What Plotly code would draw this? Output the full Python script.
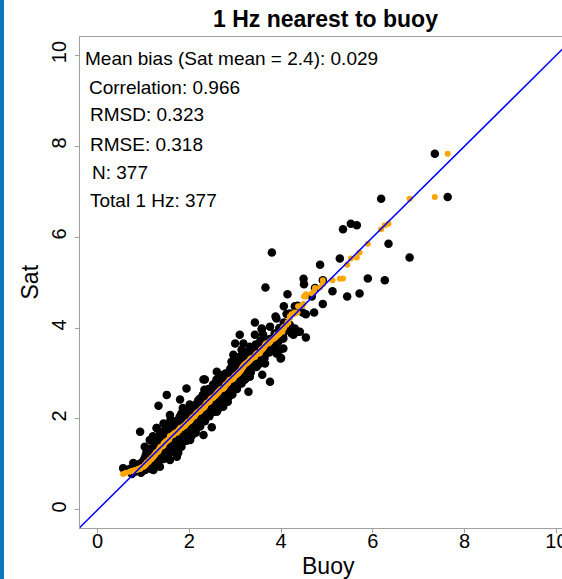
import plotly.graph_objects as go

# Collocated significant wave height (m): buoy vs. nearest 1 Hz altimeter sample
buoy = [
    0.56, 0.62, 0.70, 0.78, 0.75, 0.82, 0.86, 0.90, 0.88,
    0.93, 0.97, 0.95, 0.99, 1.02, 1.00,
    1.03, 1.04, 1.06, 1.08, 1.05, 1.10, 1.07,
    1.14, 1.12, 1.16, 1.13, 1.18, 1.15, 1.19, 1.17,
    1.22, 1.24, 1.26, 1.23, 1.27, 1.25, 1.28, 1.21, 1.29,
    1.36, 1.33, 1.37, 1.34, 1.38, 1.35, 1.32, 1.39, 1.36,
    1.44, 1.47, 1.43, 1.46, 1.48, 1.45, 1.42, 1.49, 1.44,
    1.58, 1.53, 1.56, 1.54, 1.57, 1.55, 1.52, 1.58, 1.56, 1.59,
    1.62, 1.66, 1.64, 1.67, 1.63, 1.68, 1.65, 1.69, 1.73,
    1.74, 1.77, 1.72, 1.76, 1.78, 1.75, 1.73, 1.79, 1.76,
    1.83, 1.86, 1.84, 1.87, 1.82, 1.88, 1.85, 1.83, 1.89,
    1.94, 1.97, 1.93, 1.96, 1.98, 1.95, 1.92, 1.99, 1.91,
    2.02, 2.06, 2.04, 2.07, 2.03, 2.08, 2.05, 2.09, 2.09, 2.01,
    2.14, 2.17, 2.13, 2.16, 2.18, 2.15, 2.12, 2.19, 2.20,
    2.24, 2.27, 2.23, 2.26, 2.28, 2.25, 2.22, 2.29, 2.31,
    2.34, 2.37, 2.33, 2.36, 2.38, 2.35, 2.32, 2.39, 2.31, 2.33,
    2.44, 2.47, 2.43, 2.46, 2.48, 2.45, 2.42, 2.49, 2.45,
    2.54, 2.57, 2.53, 2.56, 2.58, 2.55, 2.52, 2.59, 2.60,
    2.64, 2.67, 2.63, 2.66, 2.68, 2.65, 2.62, 2.69, 2.60, 2.62,
    2.74, 2.77, 2.73, 2.76, 2.78, 2.75, 2.72, 2.79, 2.81,
    2.84, 2.87, 2.83, 2.86, 2.88, 2.85, 2.82, 2.89,
    2.96, 2.94, 2.97, 2.93, 2.98, 2.95, 2.92, 2.99, 2.96, 2.92,
    3.04, 3.07, 3.03, 3.06, 3.08, 3.05, 3.02, 3.09, 3.00,
    3.14, 3.17, 3.13, 3.16, 3.18, 3.15, 3.12, 3.19, 3.10, 3.14, 3.18, 3.21,
    3.24, 3.27, 3.23, 3.26, 3.28, 3.25, 3.29, 3.32, 3.32,
    3.34, 3.37, 3.33, 3.36, 3.38, 3.35, 3.47, 3.43, 3.43,
    3.44, 3.47, 3.43, 3.46, 3.48, 3.45,
    3.54, 3.57, 3.53, 3.56, 3.58, 3.55, 3.59, 3.61, 3.58,
    3.64, 3.67, 3.63, 3.66, 3.68, 3.61, 3.65,
    3.74, 3.77, 3.73, 3.76, 3.76, 3.76, 3.83,
    3.84, 3.87, 3.83, 3.86, 3.88, 3.90, 3.90,
    3.94, 3.97, 3.93, 3.96, 3.98, 3.99, 4.00,
    4.04, 4.07, 4.03, 4.06, 4.05, 4.05, 4.06, 4.03,
    4.14, 4.12, 4.19, 4.19, 4.16, 4.23, 4.27, 4.30, 4.30, 4.37,
    4.36, 4.41, 4.47, 4.54, 4.54, 4.50, 4.49, 4.67, 4.74, 4.72,
    4.85, 4.91, 4.91, 5.12, 5.44, 5.71, 5.28, 5.35, 5.52, 5.65,
    5.89, 6.26, 6.34, 6.80, 6.18, 7.35, 7.63,
    3.66, 3.80, 3.90, 3.58,
    0.93, 1.29, 1.33, 1.51, 1.58, 1.80, 1.86, 1.94, 2.34,
]

sat = [
    0.92, 0.86, 0.90, 1.03, 0.79, 0.84, 0.93, 0.86, 1.00,
    0.95, 1.05, 0.82, 0.90, 1.12, 0.98,
    1.39, 0.88, 1.00, 1.10, 1.20, 0.94, 1.28,
    1.54, 0.96, 1.05, 1.16, 1.25, 1.35, 1.10, 0.90,
    0.88, 1.00, 1.12, 1.22, 1.30, 1.42, 1.50, 1.62, 1.80,
    0.95, 1.06, 1.16, 1.26, 1.36, 1.46, 1.55, 1.64, 1.72,
    1.12, 1.22, 1.32, 1.42, 1.52, 1.62, 1.70, 1.80, 1.90,
    1.10, 1.20, 1.30, 1.40, 1.48, 1.58, 1.68, 1.76, 1.88, 1.98,
    1.28, 1.36, 1.46, 1.55, 1.65, 1.74, 1.84, 1.94, 1.17,
    1.38, 1.47, 1.56, 1.66, 1.76, 1.85, 1.96, 2.05, 1.26,
    1.39, 1.50, 1.60, 1.70, 1.80, 1.90, 2.00, 2.12, 1.69,
    1.52, 1.62, 1.72, 1.82, 1.92, 2.02, 2.12, 2.22, 1.89,
    1.54, 1.64, 1.74, 1.84, 1.94, 2.04, 2.14, 2.24, 1.76, 2.32,
    1.70, 1.80, 1.90, 2.00, 2.10, 2.20, 2.30, 2.40, 1.83,
    1.84, 1.94, 2.04, 2.14, 2.24, 2.34, 2.44, 2.52, 1.65,
    1.95, 2.05, 2.15, 2.25, 2.35, 2.45, 2.55, 2.62, 2.87, 2.64,
    2.06, 2.16, 2.26, 2.36, 2.46, 2.56, 2.66, 1.82, 2.20,
    2.16, 2.26, 2.36, 2.46, 2.56, 2.66, 2.76, 2.86, 2.16,
    2.28, 2.38, 2.48, 2.58, 2.68, 2.78, 2.88, 2.96, 3.04, 2.20,
    2.27, 2.40, 2.50, 2.60, 2.70, 2.80, 2.90, 3.00, 2.49,
    2.38, 2.50, 2.60, 2.70, 2.80, 2.90, 3.00, 3.10,
    2.64, 2.54, 2.74, 2.84, 2.94, 3.04, 3.14, 3.24, 3.41, 3.26,
    2.66, 2.76, 2.86, 2.96, 3.06, 3.16, 3.26, 3.36, 3.66,
    2.78, 2.88, 2.98, 3.08, 3.18, 3.28, 3.38, 3.48, 3.85, 3.52, 3.66, 2.86,
    2.90, 3.00, 3.10, 3.20, 3.30, 3.40, 2.60, 2.93, 3.59,
    3.02, 3.12, 3.22, 3.32, 3.42, 3.52, 3.15, 3.85, 4.12,
    3.14, 3.24, 3.34, 3.44, 3.54, 3.64,
    3.22, 3.32, 3.42, 3.52, 3.62, 3.72, 2.97, 3.85, 3.99,
    3.34, 3.44, 3.54, 3.64, 3.74, 3.37, 3.22,
    3.46, 3.56, 3.66, 3.76, 2.82, 4.03, 3.70,
    3.58, 3.68, 3.78, 3.88, 4.25, 3.44, 3.70,
    3.70, 3.80, 3.90, 4.00, 3.52, 3.33, 3.34,
    3.82, 3.92, 4.02, 4.12, 3.77, 3.55, 4.48, 3.77,
    4.74, 4.31, 4.32, 4.07, 4.00, 3.88, 3.85, 3.99, 4.48, 3.92,
    4.49, 3.92, 4.34, 3.79, 4.30, 4.96, 5.08, 4.69, 4.88, 4.34,
    5.39, 5.05, 4.53, 4.81, 4.69, 4.76, 5.53, 6.17, 6.29, 6.26,
    5.09, 5.05, 5.85, 5.55, 6.84, 7.83, 6.88,
    4.89, 5.66, 4.21, 3.97,
    1.72, 1.80, 2.29, 2.53, 2.09, 2.43, 2.24, 2.67, 2.87,
]

# Quantile-quantile pairs: sorted buoy against sorted satellite values
qq_buoy = sorted(buoy)
qq_sat = sorted(sat)

# 1:1 reference line spans beyond the visible axes
one_to_one = [-1, 11]

stats_lines = [
    "Mean bias (Sat mean = 2.4): 0.029",
    "Correlation: 0.966",
    "RMSD: 0.323",
    "RMSE: 0.318",
    "N: 377",
    "Total 1 Hz: 377",
]
stats_left_px = [83, 87, 88, 88, 90, 88]
stats_mid_px = [58, 87, 115, 144, 172, 200]

W, H = 562, 579
FONT = "Liberation Sans, Arial, sans-serif"

fig = go.Figure()
fig.add_trace(go.Scatter(
    x=buoy, y=sat, mode="markers",
    marker=dict(color="black", size=8.5, line=dict(width=0)),
    showlegend=False, hoverinfo="skip",
))
fig.add_trace(go.Scatter(
    x=qq_buoy, y=qq_sat, mode="markers",
    marker=dict(color="#FFA500", size=6, line=dict(width=0)),
    showlegend=False, hoverinfo="skip",
))
fig.add_trace(go.Scatter(
    x=one_to_one, y=one_to_one, mode="lines",
    line=dict(color="#0000FF", width=1.5),
    showlegend=False, hoverinfo="skip",
))

axis_common = dict(
    showgrid=False, zeroline=False, automargin=False,
    showline=True, mirror=True, linecolor="#a0a0a0", linewidth=1,
    ticks="outside", ticklen=4, tickcolor="#a0a0a0", tickwidth=1,
    tickfont=dict(family=FONT, size=20, color="black"),
    tickmode="array", tickvals=[0, 2, 4, 6, 8, 10],
    ticktext=["0", "2", "4", "6", "8", "10"],
    ticklabeloverflow="allow",
)

annotations = []
for txt, lx, my in zip(stats_lines, stats_left_px, stats_mid_px):
    annotations.append(dict(
        text=txt, xref="paper", yref="paper",
        x=(lx - 80) / (W - 80), y=1 - (my - 37) / (528 - 37),
        xanchor="left", yanchor="middle", showarrow=False,
        font=dict(family=FONT, size=19, color="black"),
    ))
annotations.append(dict(
    text="<b>1 Hz nearest to buoy</b>", xref="paper", yref="paper",
    x=(325 - 80) / (W - 80), y=1 + (37 - 19) / (528 - 37),
    xanchor="center", yanchor="middle", showarrow=False,
    font=dict(family=FONT, size=23, color="black"),
))
annotations.append(dict(
    text="Buoy", xref="paper", yref="paper",
    x=(328 - 80) / (W - 80), y=-(566 - 528) / (528 - 37),
    xanchor="center", yanchor="middle", showarrow=False,
    font=dict(family=FONT, size=23, color="black"),
))
annotations.append(dict(
    text="Sat", xref="paper", yref="paper",
    x=-(80 - 29) / (W - 80), y=0.5, textangle=-90,
    xanchor="center", yanchor="middle", showarrow=False,
    font=dict(family=FONT, size=23, color="black"),
))

fig.update_layout(
    width=W, height=H,
    margin=dict(l=80, r=0, t=37, b=51, pad=0, autoexpand=False),
    paper_bgcolor="white", plot_bgcolor="white",
    xaxis=dict(range=[-0.38, 10.12], ticklabelstandoff=-9, **axis_common),
    yaxis=dict(range=[-0.396, 10.396], tickangle=-90, ticklabelstandoff=1, **axis_common),
    annotations=annotations,
    shapes=[dict(type="rect", xref="paper", yref="paper",
                 x0=-80 / (W - 80), x1=-76 / (W - 80), y0=-51 / (528 - 37), y1=1 + 37 / (528 - 37),
                 fillcolor="#0A78BE", line=dict(width=0), layer="above")],
)

fig.write_html("out.html")
